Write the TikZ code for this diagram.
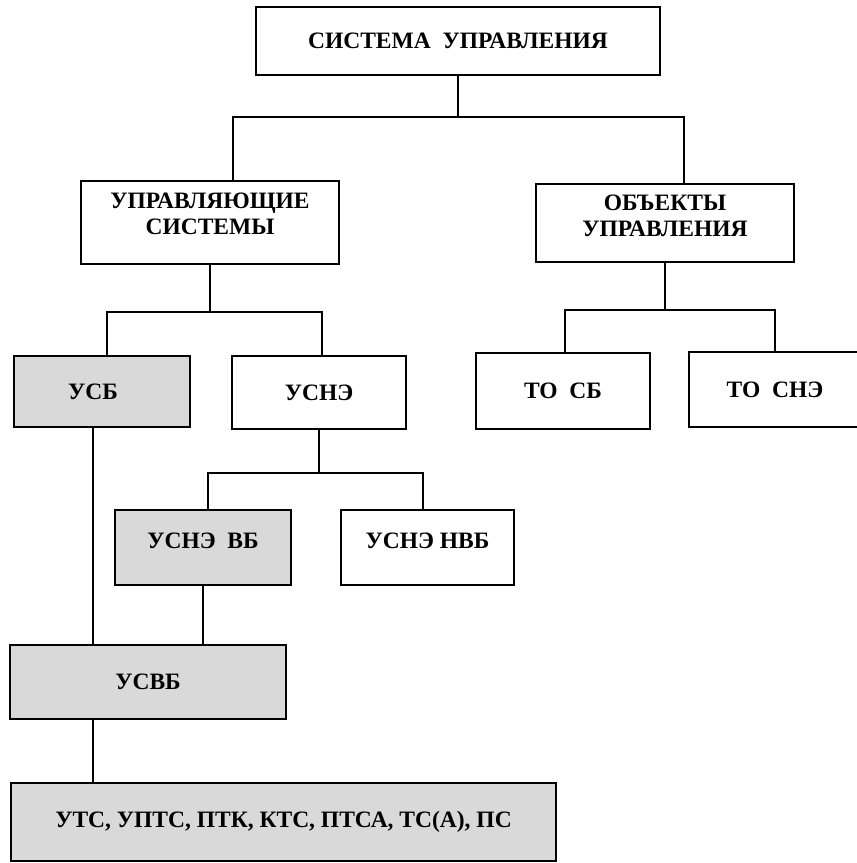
\documentclass[tikz,border=0pt]{standalone}
\usepackage{fontspec}
\setmainfont{Liberation Serif}
\usetikzlibrary{positioning}

\begin{document}
\begin{tikzpicture}[x=1pt,y=-1pt,
  box/.style={draw,line width=1.5pt,inner sep=0pt,align=center,
    font=\bfseries\fontsize{23.5}{26}\selectfont},
  grey/.style={box,fill=gray!30},
  wire/.style={line width=1.4pt}]
\useasboundingbox (0,0) rectangle (857,863);
% levels of the tree
\node[box,minimum width=404,minimum height=68] (top) at (458,41) {СИСТЕМА\ \ УПРАВЛЕНИЯ};
\node[box,minimum width=258,minimum height=83,text depth=18pt] (ups) at (210,222.5) {УПРАВЛЯЮЩИЕ\\СИСТЕМЫ};
\node[box,minimum width=258,minimum height=78,text depth=15pt] (obj) at (665,223) {ОБЪЕКТЫ\\УПРАВЛЕНИЯ};
\node[grey,minimum width=176,minimum height=71] (usb) at (102,391.5) {УСБ\hspace*{18pt}};
\node[box,minimum width=174,minimum height=73] (usne) at (319,392.5) {УСНЭ};
\node[box,minimum width=174,minimum height=76] (tosb) at (563,391) {ТО\ \ СБ};
\node[box,minimum width=172,minimum height=75] (tosne) at (775,389.5) {ТО\ \ СНЭ};
\node[grey,minimum width=176,minimum height=75,text depth=14pt] (usnevb) at (203,547.5) {УСНЭ\ \ ВБ};
\node[box,minimum width=173,minimum height=75,text depth=14pt] (usnenvb) at (427.5,547.5) {УСНЭ НВБ};
\node[grey,minimum width=276,minimum height=74] (usvb) at (148,682) {УСВБ};
\node[grey,minimum width=545,minimum height=78] (bot) at (283.5,822) {УТС, УПТС, ПТК, КТС, ПТСА, ТС(А), ПС};
% branch points
\coordinate (j1l) at (233,117);
\coordinate (j1r) at (684,117);
\coordinate (j2l) at (107,312);
\coordinate (j2r) at (322,312);
\coordinate (j3l) at (565,310);
\coordinate (j3r) at (775,310);
\coordinate (j4l) at (208,473);
\coordinate (j4r) at (423,473);
\coordinate (k1) at (93,0);
% connectors
\draw[wire] (top.south) -- (top.south |- j1l);
\draw[wire] (ups.north -| j1l) |- (j1r) -- (j1r |- obj.north);
\draw[wire] (ups.south) -- (ups.south |- j2l);
\draw[wire] (usb.north -| j2l) |- (j2r) -- (j2r |- usne.north);
\draw[wire] (obj.south) -- (obj.south |- j3l);
\draw[wire] (tosb.north -| j3l) |- (j3r) -- (j3r |- tosne.north);
\draw[wire] (usne.south) -- (usne.south |- j4l);
\draw[wire] (usnevb.north -| j4l) |- (j4r) -- (j4r |- usnenvb.north);
\draw[wire] (usb.south -| k1) -- (usvb.north -| k1);
\draw[wire] (usnevb.south) -- (usvb.north -| usnevb.south);
\draw[wire] (usvb.south -| k1) -- (bot.north -| k1);
\end{tikzpicture}
\end{document}
